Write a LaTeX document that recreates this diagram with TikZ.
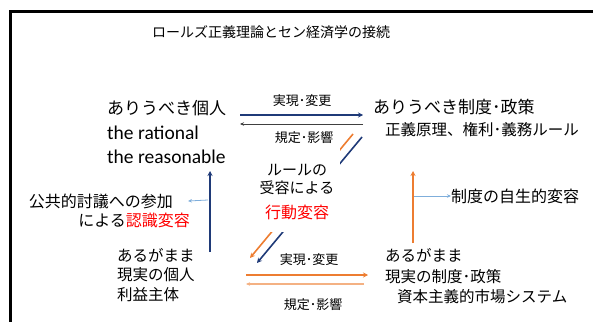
\documentclass[tikz,border=0pt]{standalone}
\usepackage{fontspec}
\setmainfont{Carlito}
\newfontfamily\jp{Noto Sans CJK JP}
\usetikzlibrary{arrows.meta}
\definecolor{navy}{HTML}{1F3A78}
\definecolor{orng}{HTML}{ED7D31}
\definecolor{peach}{HTML}{F4B183}
\definecolor{lblue}{HTML}{7FAEDB}
\definecolor{dgray}{HTML}{404040}
\tikzset{
  jt/.style={font=\jp\fontsize{#1}{#1}\selectfont, inner sep=0pt, anchor=west},
  et/.style={font=\fontsize{#1}{#1}\selectfont, inner sep=0pt, anchor=west},
  arr/.style={-{Stealth[length=5pt,width=5pt]}},
  thinarr/.style={-{Stealth[length=4pt,width=3.5pt]}},
}
\begin{document}
\begin{tikzpicture}[x=1pt,y=-1pt]
\useasboundingbox (0,0) rectangle (593,321);
\begin{scope}
\clip (0,0) rectangle (593,321);
\draw[line width=3pt] (10,12) rectangle (620,340);
\end{scope}
% title
\node[jt=14, anchor=center] (title) at (271,32) {ロールズ正義理論とセン経済学の接続};
% top left
\node[jt=17] (ideal) at (107,108) {ありうべき個人};
\node[et=19.5] (rat) at (107,133) {the rational};
\node[et=19.5] (rea) at (107,157) {the reasonable};
% top right
\node[jt=17] (inst) at (373,107) {ありうべき制度･政策};
\node[jt=15.5] (just) at (385,130) {正義原理、権利･義務ルール};
% top arrows
\coordinate (t1) at (240,115);
\coordinate (t2) at (363,115);
\coordinate (g1) at (363,124);
\coordinate (g2) at (240,124);
\draw[arr, navy, line width=1.8pt] (t1) -- (t2);
\draw[thinarr, dgray, line width=0.9pt] (g1) -- (g2);
\node[jt=13, anchor=center] (topl1) at (302,101) {実現･変更};
\node[jt=13, anchor=center] (topl2) at (304,138) {規定･影響};
% diagonal arrows
\coordinate (do1) at (353,134);
\coordinate (do2) at (250,258);
\coordinate (dn1) at (362,137);
\coordinate (dn2) at (257,263);
\draw[arr, orng, line width=1.6pt] (do1) -- (do2);
\draw[arr, navy, line width=1.6pt] (dn1) -- (dn2);
% rule box covering diagonals
\node[fill=white, inner sep=0pt, minimum width=84pt, minimum height=85pt] (rulebox) at (298,189.5) {};
\node[jt=15, anchor=center] (rule1) at (297,170) {ルールの};
\node[jt=15, anchor=center] (rule2) at (297,188) {受容による};
\node[jt=16, anchor=center, text=red] (rule3) at (297,212) {行動変容};
% vertical arrows
\coordinate (vn1) at (210,252);
\coordinate (vn2) at (210,171);
\draw[arr, navy, line width=1.6pt] (vn1) -- (vn2);
\coordinate (vo1) at (413,243);
\coordinate (vo2) at (413,171);
\draw[arr, orng, line width=1.6pt] (vo1) -- (vo2);
% side labels
\node[jt=16, anchor=east] (pub1) at (173,201) {公共的討議への参加};
\node[jt=16, anchor=east] (pub2) at (190,220) {による\textcolor{red}{認識変容}};
\coordinate (lb1) at (208,200);
\draw[thinarr, lblue, line width=0.8pt] (lb1) -- (pub1.east -| 188,0);
\node[jt=16] (spont) at (451,196) {制度の自生的変容};
\coordinate (lb2) at (414,196);
\draw[thinarr, lblue, line width=0.8pt] (lb2) -- (spont.west);
% bottom left
\node[jt=15.5] (ar1) at (117,255) {あるがまま};
\node[jt=15.5] (ar2) at (117,275) {現実の個人};
\node[jt=15.5] (ar3) at (117,295) {利益主体};
% bottom right
\node[jt=15.5] (br1) at (385,255) {あるがまま};
\node[jt=15.5] (br2) at (385,277) {現実の制度･政策};
\node[jt=15.5] (br3) at (397,297) {資本主義的市場システム};
% bottom arrows
\coordinate (b1) at (246,275);
\coordinate (b2) at (368,275);
\coordinate (p1) at (364,284);
\coordinate (p2) at (246,284);
\draw[arr, orng, line width=1.6pt] (b1) -- (b2);
\draw[thinarr, peach, line width=1.3pt] (p1) -- (p2);
\node[jt=13, anchor=center] (botl1) at (309,260) {実現･変更};
\node[jt=13, anchor=center] (botl2) at (313,305) {規定･影響};
\end{tikzpicture}
\end{document}
